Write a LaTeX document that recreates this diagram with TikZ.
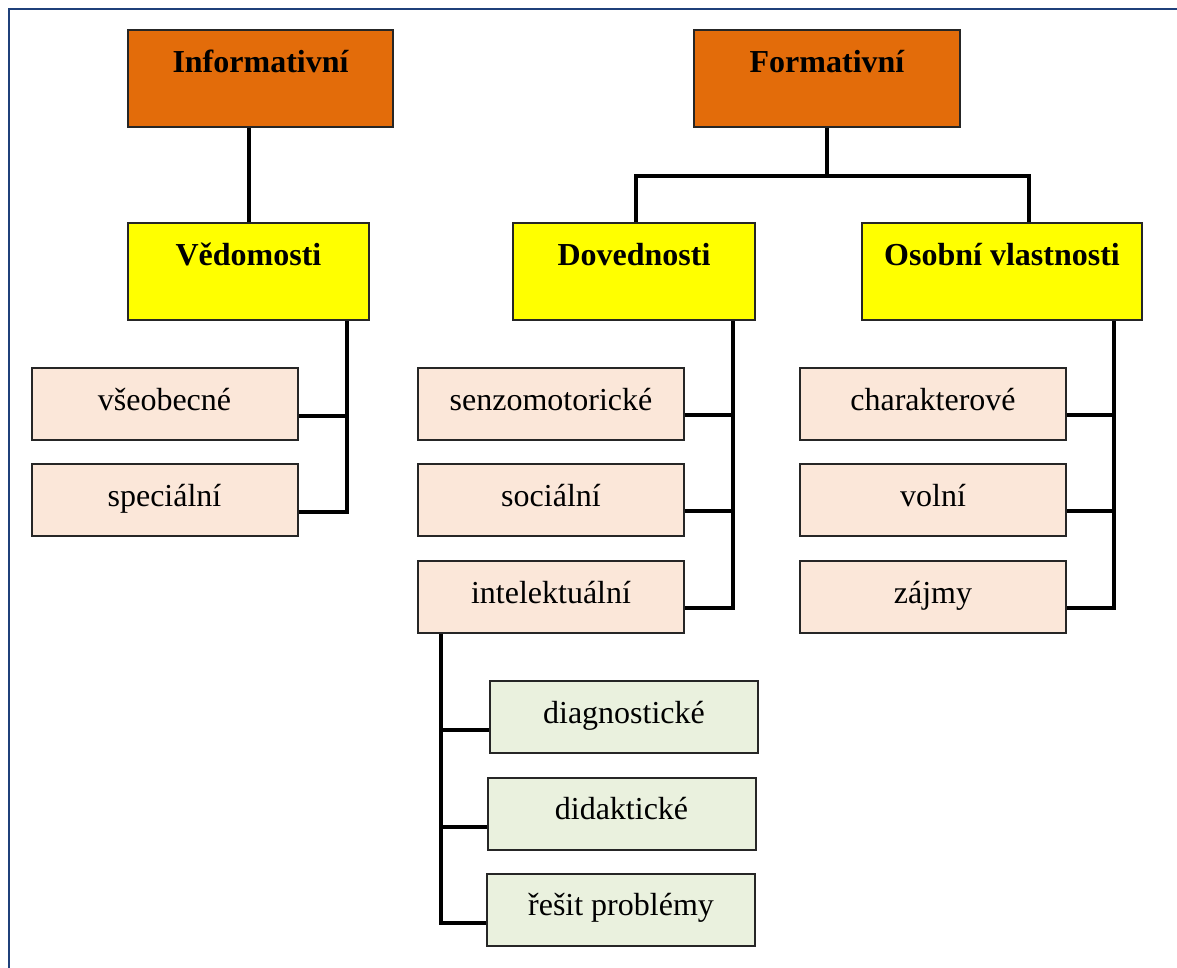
\documentclass[tikz,border=0pt]{standalone}
\usepackage{fontspec}
\setmainfont{Liberation Serif}
\usepackage{xcolor}
\usepackage{tikz}
\definecolor{kind-orange}{RGB}{227,108,10}
\definecolor{kind-yellow}{RGB}{255,255,0}
\definecolor{item-peach}{RGB}{251,231,217}
\definecolor{item-green}{RGB}{234,241,222}
\definecolor{frame-blue}{RGB}{31,64,122}

\begin{document}
\begin{tikzpicture}[
    x=1pt, y=-1pt,
    every node/.style={font=\fontsize{32}{38}\selectfont},
    kind/.style={rectangle, draw=black!85, line width=2pt, fill=kind-orange,
                 minimum width=265pt, inner sep=0pt,
                 text height=42pt, text depth=55pt,
                 font=\fontsize{32}{38}\selectfont\bfseries},
    area/.style={kind, fill=kind-yellow},
    leaf/.style={rectangle, draw=black!85, line width=2pt, fill=item-peach,
                 minimum width=266pt, inner sep=0pt,
                 text height=42pt, text depth=30pt},
    subleaf/.style={leaf, fill=item-green, minimum width=268pt},
    conn/.style={draw, line width=4pt},
    frame/.style={draw=frame-blue, line width=2.5pt},
  ]
    \clip (0,0) rectangle (1177,967);
    \draw[frame] (9,9) rectangle (1200,990);

    % two kinds of aims
    \node[kind] (inf) at (260.5,78.5) {Informativní};
    \node[kind, minimum width=266pt] (form) at (827,78.5) {Formativní};

    \node[area, minimum width=241pt] (ved) at (248.5,271.5) {Vědomosti};
    \node[area, minimum width=242pt] (dov) at (634,271.5) {Dovednosti};
    \node[area, minimum width=280pt] (osob) at (1002,271.5) {Osobní vlastnosti};

    % items
    \node[leaf] (vseob) at (164.5,404) {všeobecné};
    \node[leaf] (spec)  at (164.5,500) {speciální};
    \node[leaf] (senz)  at (551,404) {senzomotorické};
    \node[leaf] (soc)   at (551,500) {sociální};
    \node[leaf] (intel) at (551,597) {intelektuální};
    \node[leaf] (char)  at (933,404) {charakterové};
    \node[leaf] (voln)  at (933,500) {volní};
    \node[leaf] (zajmy) at (933,597) {zájmy};

    \node[subleaf] (diag)  at (624,717) {diagnostické};
    \node[subleaf] (didak) at (621.5,813.5) {didaktické};
    \node[subleaf] (resit) at (621,909.5) {řešit problémy};

    % connectors
    \draw[conn] (ved.north) -- (ved.north |- inf.south);
    \coordinate (fbar) at ([yshift=-48pt]form.south);
    \draw[conn] (form.south) -- (fbar);
    \draw[conn] ([xshift=2pt]dov.north) |- (fbar) -| ([xshift=27pt]osob.north);

    \coordinate (vedbus)  at ([xshift=-23pt]ved.south east);
    \coordinate (dovbus)  at ([xshift=-23pt]dov.south east);
    \coordinate (osobbus) at ([xshift=-29pt]osob.south east);
    \coordinate (intbus)  at ([xshift=24pt]intel.south west);

    \foreach \c in {vseob,spec}
      \draw[conn] ([yshift=-12pt]\c.east) -| (vedbus);
    \foreach \c in {senz,soc,intel}
      \draw[conn] ([yshift=-11pt]\c.east) -| (dovbus);
    \foreach \c in {char,voln,zajmy}
      \draw[conn] ([yshift=-11pt]\c.east) -| (osobbus);
    \foreach \c in {diag,didak,resit}
      \draw[conn] ([yshift=-13pt]\c.west) -| (intbus);
  \end{tikzpicture}
\end{document}
